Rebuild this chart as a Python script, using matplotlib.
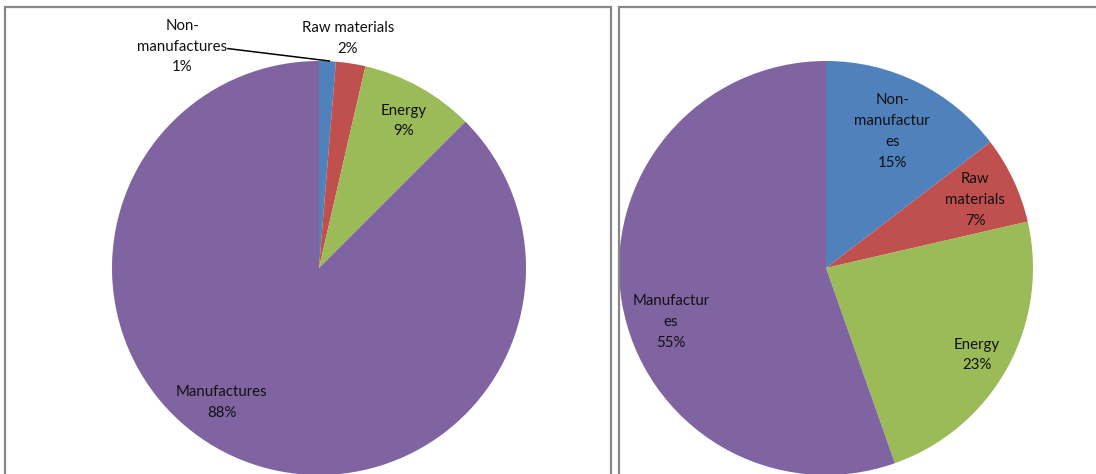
import matplotlib
matplotlib.use("Agg")
import matplotlib.pyplot as plt
from matplotlib.patches import Rectangle

plt.rcParams['font.family'] = ['Lato', 'DejaVu Sans']

W, H = 1096, 474
colors = ['#4F81BD', '#C0504D', '#9BBB59', '#8064A2']

# shares of each group, left and right charts
left_names = ['Non-\nmanufactures', 'Raw materials', 'Energy', 'Manufactures']
left_vals = [1.3, 2.3, 8.9, 87.5]
left_pct = ['1%', '2%', '9%', '88%']

right_names = ['Non-\nmanufactur\nes', 'Raw\nmaterials', 'Energy', 'Manufactur\nes']
right_vals = [14.6, 6.8, 23.2, 55.4]
right_pct = ['15%', '7%', '23%', '55%']

# label anchors in pie units (radius = 1)
left_pos = [(-0.66, 1.07), (0.14, 1.11), (0.41, 0.71), (-0.47, -0.65)]
right_pos = [(0.32, 0.66), (0.72, 0.33), (0.73, -0.42), (-0.75, -0.26)]

R = 207
fig = plt.figure(figsize=(W / 100, H / 100), dpi=100)

# chart frames
for x0, x1 in [(5, 611), (619, 1100)]:
    fig.patches.append(Rectangle((x0 / W, -0.05), (x1 - x0) / W, (H - 7) / H + 0.05,
                                 transform=fig.transFigure, fill=False,
                                 edgecolor='#878787', linewidth=1.6))


def draw_pie(cx, cy, vals, names, pcts, pos, leader=None):
    ax = fig.add_axes([(cx - R) / W, (H - cy - R) / H, 2 * R / W, 2 * R / H])
    ax.pie(vals, colors=colors, startangle=90, counterclock=False, radius=1,
           wedgeprops=dict(linewidth=0))
    ax.set_xlim(-1, 1)
    ax.set_ylim(-1, 1)
    ax.set_aspect('auto')
    ax.axis('off')
    for (x, y), n, p in zip(pos, names, pcts):
        ax.text(x, y, n + '\n' + p, ha='center', va='center', fontsize=10.8,
                color='#111111', linespacing=1.62, clip_on=False)
    if leader is not None:
        ax.plot(*leader, color='black', linewidth=1.1, clip_on=False)
    return ax


draw_pie(319, 268, left_vals, left_names, left_pct, left_pos,
         leader=([-0.44, 0.05], [1.06, 1.0]))
draw_pie(826, 268, right_vals, right_names, right_pct, right_pos)

fig.savefig('out.png', dpi=100)
